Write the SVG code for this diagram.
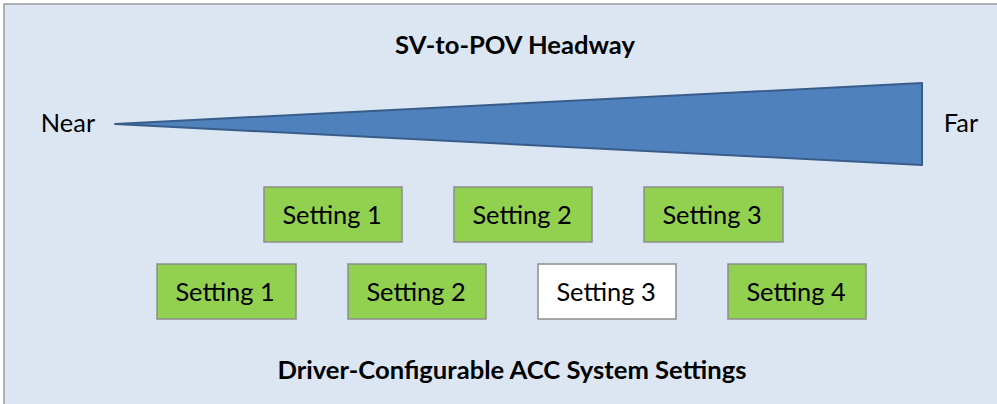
<svg xmlns="http://www.w3.org/2000/svg" width="997" height="404" viewBox="0 0 997 404">
<style>
.t{font-family:Lato,"Open Sans","Liberation Sans",sans-serif;fill:#000}
.h{font-weight:bold;font-size:25.6px;text-anchor:middle}
.s{font-size:25.4px;text-anchor:middle}
.g rect{fill:#92d050;stroke:#8c8c8c;stroke-width:1.5}
.w rect{fill:#ffffff;stroke:#8c8c8c;stroke-width:1.5}
</style>
<rect x="0" y="0" width="997" height="404" fill="#ffffff"/>
<rect x="4" y="4" width="1000" height="410" fill="#dce6f2" stroke="#9a9a9a" stroke-width="1.5"/>
<text class="t h" x="515" y="54">SV-to-POV Headway</text>
<g id="headway">
<polygon points="115,124 922,83 922,165" fill="#4f81bd" stroke="#385d8a" stroke-width="2" stroke-linejoin="round"/>
</g>
<text class="t s" x="68" y="132">Near</text>
<text class="t s" x="961" y="132">Far</text>
<g id="r1s1" class="g"><rect x="264" y="187" width="138" height="55"/><text class="t s" x="332" y="224">Setting 1</text></g>
<g id="r1s2" class="g"><rect x="454" y="187" width="138" height="55"/><text class="t s" x="522" y="224">Setting 2</text></g>
<g id="r1s3" class="g"><rect x="644" y="187" width="139" height="55"/><text class="t s" x="712" y="224">Setting 3</text></g>
<g id="r2s1" class="g"><rect x="157" y="264" width="139" height="55"/><text class="t s" x="225" y="301">Setting 1</text></g>
<g id="r2s2" class="g"><rect x="348" y="264" width="138" height="55"/><text class="t s" x="416" y="301">Setting 2</text></g>
<g id="r2s3" class="w"><rect x="538" y="264" width="138" height="55"/><text class="t s" x="606" y="301">Setting 3</text></g>
<g id="r2s4" class="g"><rect x="728" y="264" width="138" height="55"/><text class="t s" x="796" y="301">Setting 4</text></g>
<g id="connectors"></g>
<text class="t h" x="512" y="379">Driver-Configurable ACC System Settings</text>
</svg>
